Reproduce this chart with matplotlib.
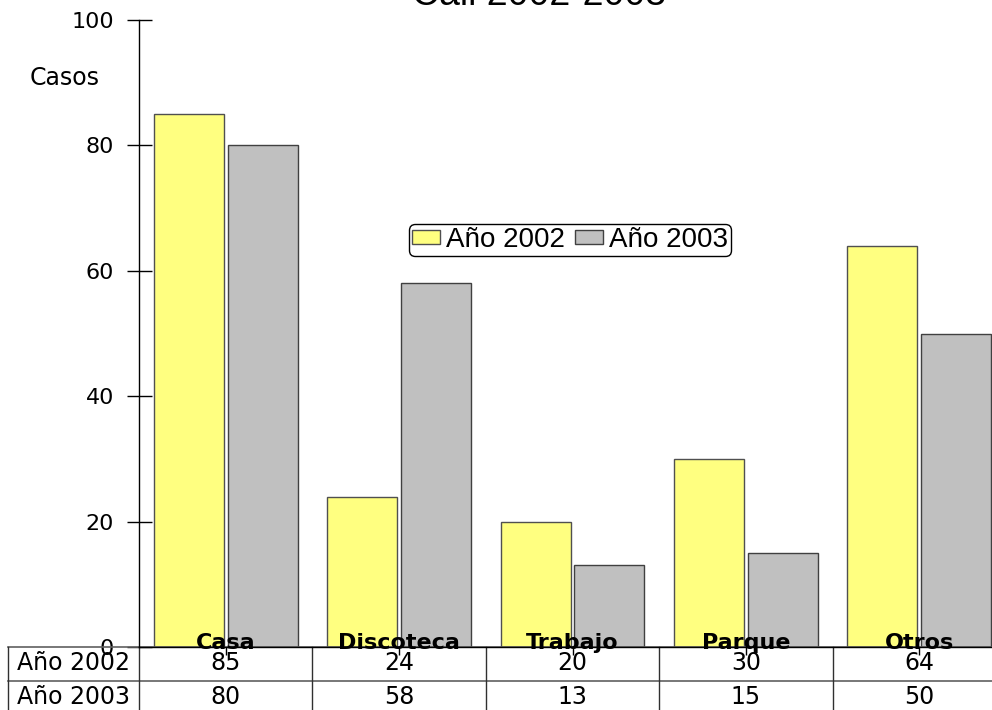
import matplotlib
matplotlib.use('Agg')
import matplotlib.pyplot as plt
import numpy as np

categorias = ['Casa', 'Discoteca', 'Trabajo', 'Parque', 'Otros']
anio_2002 = [85, 24, 20, 30, 64]
anio_2003 = [80, 58, 13, 15, 50]
series = ['Año 2002', 'Año 2003']
y_ticks = [0, 20, 40, 60, 80, 100]

W, H = 992, 710
fig = plt.figure(figsize=(W / 100, H / 100), dpi=100)
# axes: x from 139 px to 1006 px, y from 647 px (0) to 20 px (100)
ax = fig.add_axes([139 / W, (H - 647) / H, (1006 - 139) / W, (647 - 20) / H])

x = np.arange(len(categorias))
ancho = 0.404
ax.bar(x - 0.213, anio_2002, ancho, color='#FFFF80', edgecolor='#505050', linewidth=1, label=series[0])
ax.bar(x + 0.213, anio_2003, ancho, color='#C0C0C0', edgecolor='#404040', linewidth=1, label=series[1])

ax.set_xlim(-0.5, len(categorias) - 0.5)
ax.set_ylim(0, 100)
for s in ['top', 'right']:
    ax.spines[s].set_visible(False)
ax.spines['bottom'].set_linewidth(1)
ax.spines['left'].set_linewidth(1)

ax.set_yticks(y_ticks)
ax.tick_params(axis='y', direction='inout', length=18, width=1, pad=9, labelsize=16)
ax.set_xticks(x)
ax.set_xticklabels([])
ax.tick_params(axis='x', direction='out', length=6, width=1)

fig.text(30 / W, 1 - 78 / H, 'Casos', fontsize=17, va='center', ha='left')
fig.text(539 / W, 1 - 5 / H, 'Cali 2002-2003', fontsize=27, ha='center', va='baseline',
         family='Liberation Sans')

tr = matplotlib.transforms.blended_transform_factory(ax.transData, fig.transFigure)
trf = fig.transFigure

# category labels over the zero line
for i, c in enumerate(categorias):
    ax.text(i, 1 - 643 / H, c, transform=tr, ha='center', va='center',
            fontsize=16, fontweight='bold', clip_on=False, zorder=5)

# data table drawn below the axis
filas = [anio_2002, anio_2003]
y_lines = [647, 681, 715]
left_px = 8
for k in range(len(y_lines)):
    yy = 1 - y_lines[k] / H
    ax.plot([left_px / W, 1006 / W], [yy, yy], transform=trf, color='#606060', lw=1.2, clip_on=False)
for bnd in np.arange(len(categorias) + 1) - 0.5:
    ax.plot([bnd, bnd], [1 - 647 / H, 1 - 715 / H], transform=tr, color='#303030', lw=1, clip_on=False)
ax.plot([left_px / W, left_px / W], [1 - 647 / H, 1 - 715 / H], transform=trf, color='#303030', lw=1, clip_on=False)
for r, fila in enumerate(filas):
    yc = 1 - (y_lines[r] + y_lines[r + 1]) / 2 / H + 1 / H
    fig.text((left_px + 139) / 2 / W, yc, series[r], ha='center', va='center', fontsize=17)
    for i, v in enumerate(fila):
        ax.text(i, yc, str(v), transform=tr, ha='center', va='center', fontsize=17, clip_on=False)

leg = ax.legend(loc='center', bbox_to_anchor=(570 / W, 1 - 240 / H), bbox_transform=trf,
                ncol=2, frameon=True, fancybox=True, edgecolor='black', framealpha=1,
                prop={'family': 'Liberation Sans', 'size': 20}, handlelength=1.0, handleheight=0.4,
                handletextpad=0.2, columnspacing=0.4, borderpad=0.1, borderaxespad=0)
leg.get_frame().set_linewidth(1)

fig.savefig('out.png', dpi=100)
